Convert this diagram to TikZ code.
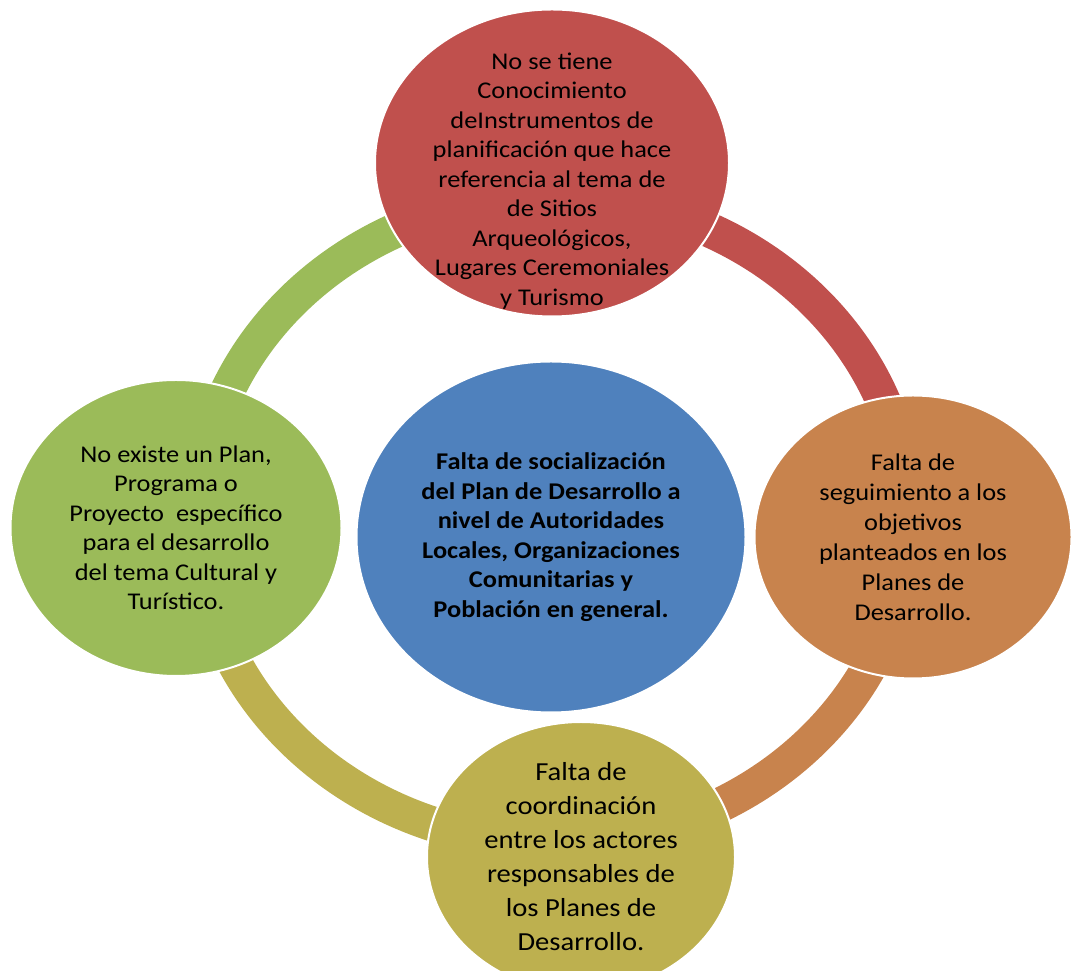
\documentclass[tikz,border=0pt]{standalone}
\usepackage{fontspec}
\setmainfont{Carlito}[FakeStretch=1.1]
\usepackage{xcolor}
\usetikzlibrary{shapes.geometric}
\definecolor{cRed}{HTML}{C0504D}
\definecolor{cBlue}{HTML}{4F81BD}
\definecolor{cGreen}{HTML}{9BBB59}
\definecolor{cOrange}{HTML}{C8834D}
\definecolor{cOlive}{HTML}{BDB04F}

\begin{document}
\begin{tikzpicture}[x=1pt, y=1pt,
  bubble/.style={ellipse, draw=white, line width=2pt, align=center, inner sep=0pt,
                 text=black},
  seg/.style={line width=35pt}]
\useasboundingbox (0,0) rectangle (1073,971);
% ring behind the circles
\coordinate (pT) at (553,774);
\coordinate (pR) at (908,451);
\coordinate (pB) at (553,128);
\coordinate (pL) at (198,451);
\draw[seg, cRed] (pT) arc[start angle=90, end angle=0, x radius=355, y radius=323];
\draw[seg, cOrange] (pR) arc[start angle=0, end angle=-90, x radius=355, y radius=323];
\draw[seg, cOlive] (pB) arc[start angle=-90, end angle=-180, x radius=355, y radius=323];
\draw[seg, cGreen] (pL) arc[start angle=180, end angle=90, x radius=355, y radius=323];
% circles
\node[bubble, fill=cRed, minimum width=354, minimum height=307] (conoc) at (552,808) {};
\node[align=center, text=black, font=\fontsize{24}{29.5}\selectfont] (conocTxt)
  at ([yshift=-18]conoc.center)
  {No se tiene\\ Conocimiento\\ deInstrumentos de\\ planificación que hace\\
   referencia al tema de\\ de Sitios\\ Arqueológicos,\\ Lugares Ceremoniales\\ y Turismo};
\node[bubble, fill=cBlue, minimum width=389, minimum height=351,
      font=\bfseries\fontsize{24}{29.5}\selectfont] (social) at (551,434)
  {Falta de socialización\\ del Plan de Desarrollo a\\ nivel de Autoridades\\
   Locales, Organizaciones\\ Comunitarias y\\ Población en general.};
\node[bubble, fill=cGreen, minimum width=331, minimum height=296,
      font=\fontsize{24}{29.5}\selectfont] (plan) at (176,443)
  {No existe un Plan,\\ Programa o\\ Proyecto\ \ específico\\ para el desarrollo\\
   del tema Cultural y\\ Turístico.};
\node[bubble, fill=cOrange, minimum width=317, minimum height=283,
      font=\fontsize{24}{30}\selectfont] (seguim) at (913,434)
  {Falta de\\ seguimiento a los\\ objetivos\\ planteados en los\\ Planes de\\ Desarrollo.};
\node[bubble, fill=cOlive, minimum width=308, minimum height=270,
      font=\fontsize{26}{34}\selectfont] (coord) at (581,114)
  {Falta de\\ coordinación\\ entre los actores\\ responsables de\\ los Planes de\\ Desarrollo.};
\end{tikzpicture}
\end{document}
